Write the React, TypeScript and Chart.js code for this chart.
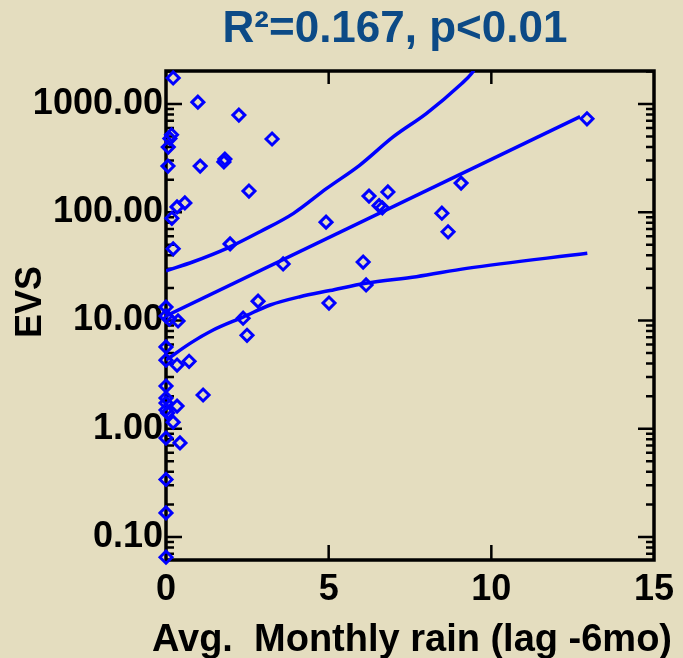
import { useEffect, useRef } from 'react';
import { Chart, registerables } from 'chart.js';

Chart.register(...registerables);

// ---- data ----
const rainX = [
  0.22, 0.98, 2.24, 3.26, 0.17, 0.12, 0.07, 0.06, 1.05, 1.81, 1.78, 2.55, 0.58, 0.34,
  0.18, 0.22, 1.97, 4.92, 12.94, 9.07, 6.24, 6.82, 6.55, 6.65, 8.48, 8.67, 6.06, 6.15,
  5.01, 3.6, 2.83, 2.37, 2.49, 0, 0, 0.1, 0.37, 0, 0, 0.34, 0.71, 0, 1.14, 0, 0, 0,
  0.05, 0.34, 0.22, 0, 0.43, 0, 0, 0,
];
const evsY = [
  1740, 1040, 790, 475, 520, 480, 400, 267, 267, 310, 292, 157, 122, 112,
  88, 46, 51, 81, 730, 186, 141, 154, 115, 110, 98, 66, 34.7, 21.3,
  14.5, 33.3, 15.1, 10.5, 7.3, 13.3, 11, 10.3, 9.9, 5.7, 4.3, 3.88, 4.2, 2.48, 2.05, 1.92, 1.73, 1.49,
  1.4, 1.62, 1.15, 0.82, 0.74, 0.34, 0.167, 0.065,
];
const fitX = [0, 12.73];
const fitY = [11.0, 764];
const upperX = [0, 0.84, 1.87, 2.89, 3.92, 4.94, 5.96, 6.99, 8.01, 9.04, 9.4, 9.5];
const upperY = [28.8, 34.9, 46.4, 66.1, 97.7, 166, 273, 499, 820, 1500, 1923, 2150];
const lowerX = [0, 0.74, 1.45, 2.38, 3.2, 4.12, 5.04, 6.14, 7.7, 9.24, 12.95];
const lowerY = [4.3, 6.15, 8.17, 10.8, 13.9, 16.6, 18.9, 22.1, 25.4, 30.3, 41.8];
const xTicks = [0, 5, 10, 15];
const yTicks = [0.1, 1, 10, 100, 1000];
const titleText = 'R\u00B2=0.167, p<0.01';
const xTitle = 'Avg.  Monthly rain (lag -6mo)';
const yTitle = 'EVS';

const FONT = '"Liberation Sans", Arial, sans-serif';
const BLUE = '#0000ff';
const BG = '#e4ddbf';
const Y_MIN = 0.0613;
const Y_MAX = 2018;

const decorPlugin = {
  id: 'decor',
  beforeDraw(chart: any) {
    const { ctx, width, height } = chart;
    ctx.save();
    ctx.fillStyle = BG;
    ctx.fillRect(0, 0, width, height);
    ctx.restore();
  },
  beforeDatasetsDraw(chart: any) {
    const { ctx, chartArea } = chart;
    const { left, right, top, bottom } = chartArea;
    const xs = chart.scales.x;
    const ys = chart.scales.y;
    ctx.save();
    ctx.strokeStyle = '#000';
    ctx.lineWidth = 3.5;
    ctx.strokeRect(left, top, right - left, bottom - top);
    ctx.lineWidth = 2.5;
    ctx.beginPath();
    for (let e = -2; e <= 3; e++) {
      for (let m = 1; m <= 9; m++) {
        const v = m * Math.pow(10, e);
        if (v <= Y_MIN || v >= Y_MAX) continue;
        const y = ys.getPixelForValue(v);
        const len = m === 1 ? 16 : 8;
        ctx.moveTo(left, y);
        ctx.lineTo(left + len, y);
        ctx.moveTo(right, y);
        ctx.lineTo(right - len, y);
      }
    }
    xTicks.forEach((v) => {
      if (v <= 0 || v >= 15) return;
      const x = xs.getPixelForValue(v);
      ctx.moveTo(x, top);
      ctx.lineTo(x, top + 13);
      ctx.moveTo(x, bottom);
      ctx.lineTo(x, bottom - 15);
    });
    ctx.stroke();
    ctx.restore();
  },
  afterDraw(chart: any) {
    const { ctx } = chart;
    ctx.save();
    ctx.textAlign = 'center';
    ctx.textBaseline = 'middle';
    ctx.fillStyle = '#0c4a86';
    ctx.font = `bold 44px ${FONT}`;
    ctx.fillText(titleText, 395, 30);
    ctx.fillStyle = '#000';
    ctx.font = `bold 38px ${FONT}`;
    ctx.fillText(xTitle, 412, 641);
    ctx.font = `bold 36px ${FONT}`;
    ctx.translate(31, 302);
    ctx.rotate(-Math.PI / 2);
    ctx.fillText(yTitle, 0, 0);
    ctx.restore();
  },
};

export default function App() {
  const ref = useRef<HTMLCanvasElement | null>(null);

  useEffect(() => {
    if (!ref.current) return;
    const pts = rainX.map((x, i) => ({ x, y: evsY[i] }));
    const fit = fitX.map((x, i) => ({ x, y: fitY[i] }));
    const up = upperX.map((x, i) => ({ x, y: upperY[i] }));
    const lo = lowerX.map((x, i) => ({ x, y: lowerY[i] }));
    const lineDs = (data: any[]) => ({
      type: 'line' as const,
      data,
      borderColor: BLUE,
      borderWidth: 3.5,
      pointRadius: 0,
      fill: false,
      cubicInterpolationMode: 'monotone' as const,
    });
    const chart = new Chart(ref.current, {
      type: 'scatter',
      data: {
        datasets: [
          lineDs(fit),
          lineDs(up),
          lineDs(lo),
          {
            type: 'scatter',
            data: pts,
            pointStyle: 'rectRot',
            pointRadius: 6,
            pointBorderWidth: 3,
            pointBackgroundColor: 'rgba(0,0,0,0)',
            pointBorderColor: BLUE,
            clip: false,
          } as any,
        ],
      },
      options: {
        animation: false,
        responsive: false,
        devicePixelRatio: 1,
        layout: { padding: { top: 71, right: 29, left: 0, bottom: 0 } },
        plugins: {
          legend: { display: false },
          tooltip: { enabled: false },
          title: { display: false },
        },
        scales: {
          x: {
            type: 'linear',
            min: 0,
            max: 15,
            afterBuildTicks: (s: any) => {
              s.ticks = xTicks.map((v) => ({ value: v }));
            },
            afterFit: (s: any) => {
              s.height = 98;
            },
            ticks: {
              color: '#000',
              font: { family: FONT, size: 36, weight: 'bold' },
              padding: 8,
              maxRotation: 0,
              autoSkip: false,
            },
            grid: { display: false, drawTicks: false },
            border: { display: false },
            title: { display: false },
          },
          y: {
            type: 'logarithmic',
            min: Y_MIN,
            max: Y_MAX,
            afterBuildTicks: (s: any) => {
              s.ticks = yTicks.map((v) => ({ value: v }));
            },
            afterFit: (s: any) => {
              s.width = 166;
            },
            ticks: {
              color: '#000',
              font: { family: FONT, size: 36, weight: 'bold' },
              padding: 3,
              autoSkip: false,
              callback: (v: any) => Number(v).toFixed(2),
            },
            grid: { display: false, drawTicks: false },
            border: { display: false },
          },
        },
      } as any,
      plugins: [decorPlugin],
    });
    return () => chart.destroy();
  }, []);

  return (
    <div style={{ position: 'fixed', left: 0, top: 0, width: 683, height: 658 }}>
      <canvas ref={ref} width={683} height={658} style={{ display: 'block' }} />
    </div>
  );
}
